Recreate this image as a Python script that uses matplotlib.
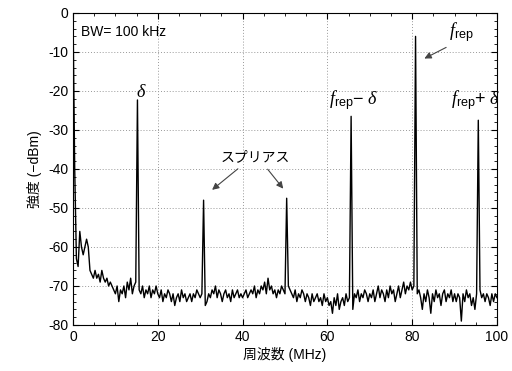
import numpy as np
import matplotlib
matplotlib.use("Agg")
import matplotlib.pyplot as plt
from matplotlib.ticker import MultipleLocator

plt.rcParams['font.family'] = ['Liberation Sans', 'Noto Sans CJK JP', 'DejaVu Sans']
plt.rcParams['mathtext.fontset'] = 'custom'
plt.rcParams['mathtext.rm'] = 'Liberation Sans'
plt.rcParams['mathtext.it'] = 'Liberation Serif:italic'
plt.rcParams['axes.unicode_minus'] = False

# noise floor, one value every 0.4 MHz (dBm)
floor_0_10 = [0, -40, -63, -65, -56, -60, -62, -60, -58, -60, -66, -67, -68, -66, -68, -67, -69, -66, -68, -69, -68, -70, -69, -70, -71]
floor_10_20 = [-72, -70, -74, -71, -72, -70, -73, -69, -71, -68, -72, -70, -69, -70, -71, -72, -70, -73, -71, -72, -70, -73, -71, -72, -70]
floor_20_30 = [-72, -73, -71, -74, -72, -73, -71, -72, -74, -72, -75, -73, -72, -74, -71, -73, -72, -74, -73, -72, -74, -72, -73, -71, -72]
floor_30_40 = [-73, -72, -74, -75, -74, -72, -73, -71, -72, -70, -73, -71, -72, -74, -72, -71, -73, -72, -74, -71, -73, -72, -71, -73, -72]
floor_40_50 = [-73, -72, -71, -73, -72, -71, -72, -70, -73, -71, -72, -70, -71, -69, -72, -68, -71, -70, -72, -71, -73, -71, -72, -70, -71]
floor_50_60 = [-72, -72, -70, -71, -72, -73, -71, -74, -72, -73, -71, -72, -74, -72, -73, -75, -72, -74, -73, -72, -74, -73, -75, -72, -74]
floor_60_70 = [-73, -75, -74, -77, -73, -75, -72, -76, -74, -73, -75, -72, -74, -73, -72, -76, -72, -73, -71, -74, -72, -73, -71, -72, -74]
floor_70_80 = [-72, -73, -71, -74, -72, -70, -73, -71, -72, -74, -71, -73, -70, -72, -71, -74, -72, -70, -73, -71, -69, -72, -70, -71, -69]
floor_80_90 = [-71, -70, -70, -72, -71, -73, -76, -72, -74, -71, -73, -77, -72, -74, -71, -73, -72, -75, -72, -71, -74, -72, -73, -71, -74]
floor_90_100 = [-72, -74, -72, -73, -79, -72, -74, -71, -73, -72, -75, -73, -76, -72, -72, -71, -73, -72, -74, -72, -73, -75, -72, -74, -72, -73]

# spectral lines: delta, spurs, frep-delta, frep, frep+delta
peak_mhz = [15.2, 30.8, 50.4, 65.6, 80.8, 95.6]
peak_db = [-22.3, -48, -47.5, -26.5, -6, -27.5]

level = np.array(floor_0_10 + floor_10_20 + floor_20_30 + floor_30_40 + floor_40_50
                 + floor_50_60 + floor_60_70 + floor_70_80 + floor_80_90 + floor_90_100, dtype=float)
freq = np.linspace(0, 100, len(level))
for f, p in zip(peak_mhz, peak_db):
    level[np.argmin(np.abs(freq - f))] = p

fig = plt.figure(figsize=(5.12, 3.71), dpi=100)
ax = fig.add_axes([0.1426, 0.124, 0.828, 0.841])
ax.plot(freq, level, color='black', lw=1.0)

ax.set_xlim(0, 100)
ax.set_ylim(-80, 0)
ax.xaxis.set_major_locator(MultipleLocator(20))
ax.xaxis.set_minor_locator(MultipleLocator(5))
ax.yaxis.set_major_locator(MultipleLocator(10))
ax.yaxis.set_minor_locator(MultipleLocator(2))
ax.tick_params(which='both', direction='in', top=True, right=True, labelsize=10)
ax.tick_params(which='major', length=4)
ax.tick_params(which='minor', length=2)
ax.grid(True, which='major', linestyle=(0, (1, 2)), color='#999999', lw=0.7)

ax.set_xlabel('周波数 (MHz)', fontsize=10, labelpad=2)
ax.set_ylabel('強度 (−dBm)', fontsize=10)

ax.text(1.9, -5, 'BW= 100 kHz', fontsize=10, va='center', ha='left')
ax.text(16.0, -20.5, r'$\delta$', fontsize=13, ha='center', va='center')
ax.text(60.4, -22.3, r'$f_{\mathrm{rep}}\mathrm{-}\ \delta$', fontsize=13, ha='left', va='center')
ax.text(89.2, -22.3, r'$f_{\mathrm{rep}}\mathrm{+}\ \delta$', fontsize=13, ha='left', va='center')
ax.text(88.6, -5, r'$f_{\mathrm{rep}}$', fontsize=13, ha='left', va='center')

arrow = dict(arrowstyle='-|>', color='#444444', lw=0.8, mutation_scale=10)
ax.annotate('', xy=(82.3, -12), xytext=(88.6, -8.5), arrowprops=arrow)
ax.text(43, -37, 'スプリアス', fontsize=10, ha='center', va='center')
ax.annotate('', xy=(32.3, -45.8), xytext=(39.4, -39.5), arrowprops=arrow)
ax.annotate('', xy=(50.0, -45.6), xytext=(45.5, -39.5), arrowprops=arrow)

fig.savefig('out.png', dpi=100)
